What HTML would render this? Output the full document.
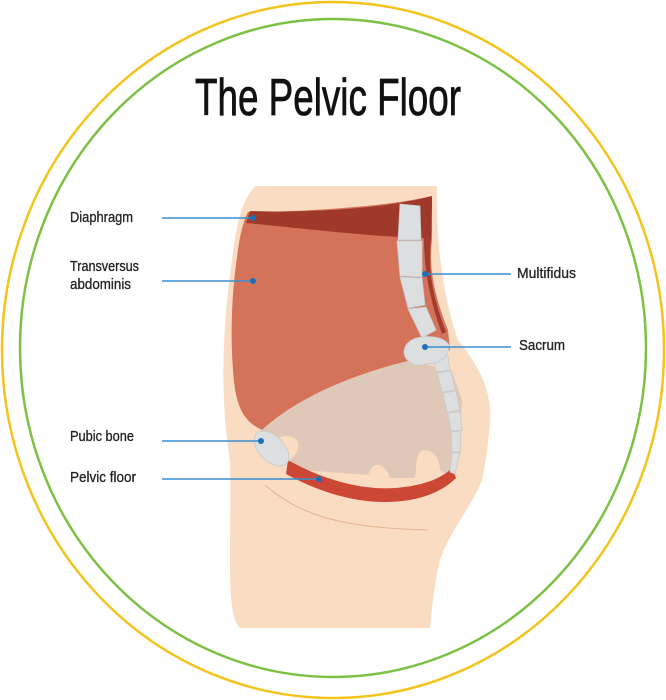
<!DOCTYPE html>
<html><head><style>
html,body{margin:0;padding:0;background:#fff;}
svg{display:block;}
text{font-family:"Liberation Sans",sans-serif;fill:#222;}
</style></head><body>
<svg width="666" height="700" viewBox="0 0 666 700" xmlns="http://www.w3.org/2000/svg">
<ellipse cx="333" cy="350" rx="331" ry="348" fill="none" stroke="#f4c41c" stroke-width="2.5"/>
<ellipse cx="333" cy="348" rx="313" ry="329" fill="none" stroke="#7cc143" stroke-width="2.5"/>
<text x="195" y="115" font-size="52" textLength="266" lengthAdjust="spacingAndGlyphs" style="fill:#111;stroke:#111;stroke-width:0.8">The Pelvic Floor</text>
<path d="M256,186 L437,186 C436,230 440,290 458,340 C478,365 492,390 490,420 C488,450 485,465 482,480 C470,510 450,530 440,560 C433,590 432,610 430,628 L240,628 C232,620 230,600 230,560 C230,520 231,490 230,460 C220,400 222,330 232,260 C236,230 240,200 256,186 Z" fill="#f9dcc1"/>
<path d="M265,485 C300,515 340,528 428,530" fill="none" stroke="#e6b496" stroke-width="1"/>
<path d="M248,212 C290,212 380,208 432,196 L432,240 C428,270 436,300 448,330 L450,350 L412,360 C360,375 300,395 262,430 C240,420 235,400 233,370 C230,330 232,290 238,250 C240,235 243,222 248,212 Z" fill="#d4735a"/>
<path d="M422,205 L432,196 L431,240 C428,270 432,295 446,332 L442,334 C430,300 424,270 424,240 Z" fill="#a13c2c"/>
<path d="M250,211 C300,213 380,210 432,196 L431,238 C380,238 300,228 246,223 Z" fill="#9f3a2b"/>
<path d="M262,430 C300,395 360,372 412,360 L452,372 L462,400 L460,450 L452,478 L440,470 C440,455 428,446 420,452 C414,460 418,470 414,478 L390,478 C385,462 372,460 368,475 L300,470 L290,460 C300,452 302,440 292,437 C284,434 278,438 275,440 Z" fill="#dfc8b7"/>
<path d="M288,460 C330,484 370,490 395,488 C420,486 440,480 452,468 L456,478 C440,494 415,502 385,502 C350,502 315,490 286,474 Z" fill="#cc4735"/>
<g fill="#dcdee0" stroke="#c7cacc" stroke-width="0.8">
<path d="M400,204 L420,206 L421,240 L398,240 Z"/>
<path d="M397,241 L422,241 L422,277 L400,276 Z"/>
<path d="M400,277 L422,278 L425,305 L408,308 Z"/>
<path d="M408,309 L426,307 L436,330 L422,338 Z"/>
<path d="M432,355 L448,356 L450,370 L436,372 Z"/>
<path d="M437,373 L451,371 L455,390 L442,392 Z"/>
<path d="M443,393 L456,391 L460,410 L447,412 Z"/>
<path d="M448,413 L460,412 L462,430 L451,431 Z"/>
<path d="M451,432 L461,431 L460,452 L452,452 Z"/>
<path d="M452,453 L460,453 L455,474 L450,472 Z"/>
<path d="M410,341 C418,335 442,334 449,345 C449,357 440,364 425,364 C416,368 405,362 404,353 C404,347 406,344 410,341 Z"/>
<path d="M256,434 C262,428 276,432 284,444 C292,456 290,466 280,466 C270,466 258,456 255,446 C254,440 254,437 256,434 Z"/>
</g>
<g stroke="#3b8fd0" stroke-width="1.6">
<line x1="162" y1="218" x2="253" y2="218"/>
<line x1="162" y1="281" x2="253" y2="281"/>
<line x1="425" y1="274" x2="511" y2="274"/>
<line x1="425" y1="347" x2="511" y2="347"/>
<line x1="162" y1="441" x2="261" y2="441"/>
<line x1="162" y1="479" x2="319" y2="479"/>
</g>
<g fill="#1f6fb8">
<circle cx="253" cy="218" r="3"/><circle cx="253" cy="281" r="3"/>
<circle cx="425" cy="274" r="3"/><circle cx="425" cy="347" r="3"/>
<circle cx="261" cy="441" r="3"/><circle cx="319" cy="479" r="3"/>
</g>
<g font-size="15" style="stroke:#222;stroke-width:0.3">
<text x="70" y="222" textLength="63" lengthAdjust="spacingAndGlyphs">Diaphragm</text>
<text x="70" y="271" textLength="69" lengthAdjust="spacingAndGlyphs">Transversus</text>
<text x="70" y="289" textLength="61" lengthAdjust="spacingAndGlyphs">abdominis</text>
<text x="517" y="278" textLength="59" lengthAdjust="spacingAndGlyphs">Multifidus</text>
<text x="519" y="350" textLength="46" lengthAdjust="spacingAndGlyphs">Sacrum</text>
<text x="70" y="441" textLength="64" lengthAdjust="spacingAndGlyphs">Pubic bone</text>
<text x="70" y="482" textLength="66" lengthAdjust="spacingAndGlyphs">Pelvic floor</text>
</g>
</svg>
</body></html>
